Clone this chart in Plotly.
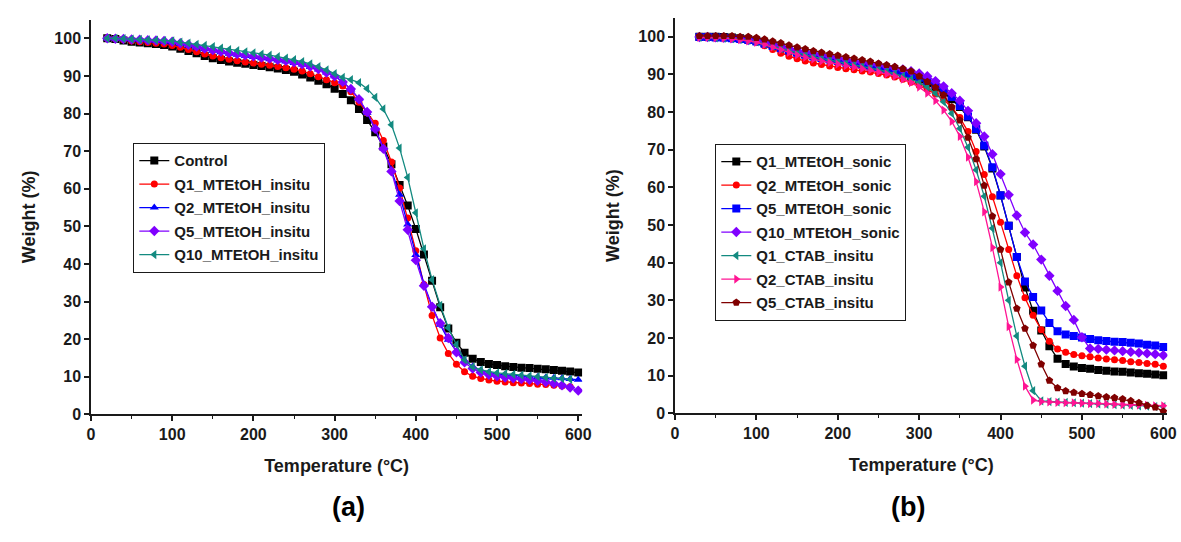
import plotly.graph_objects as go

# ---------------- data: panel (a) ----------------
temp_a = [20, 30, 40, 50, 60, 70, 80, 90, 100, 110, 120, 130, 140, 150, 160, 170, 180, 190,
          200, 210, 220, 230, 240, 250, 260, 270, 280, 290, 300, 310, 320, 330, 340, 350,
          360, 370, 380, 390, 400, 410, 420, 430, 440, 450, 460, 470, 480, 490, 500, 510,
          520, 530, 540, 550, 560, 570, 580, 590, 600]

control = [100.0, 99.8, 99.4, 99.1, 98.9, 98.7, 98.5, 98.2, 97.8, 97.2, 96.6, 96.0, 95.3, 94.7,
           94.2, 93.8, 93.5, 93.2, 92.9, 92.6, 92.3, 92.0, 91.6, 91.1, 90.4, 89.6, 88.7, 87.8,
           86.6, 85.2, 83.5, 81.2, 78.3, 75.0, 71.2, 66.5, 61.0, 55.5, 49.3, 42.5, 35.5, 28.5,
           22.8, 19.0, 16.4, 14.8, 13.9, 13.4, 13.1, 12.8, 12.6, 12.4, 12.3, 12.1, 12.0, 11.8,
           11.6, 11.4, 11.1]

q1_mtetoh_insitu = [100.0, 99.9, 99.6, 99.3, 99.1, 98.9, 98.7, 98.5, 98.1, 97.6, 97.0, 96.4, 95.8,
                    95.3, 94.8, 94.4, 94.0, 93.7, 93.4, 93.1, 92.8, 92.5, 92.2, 91.8, 91.3, 90.6,
                    89.8, 89.0, 88.2, 87.3, 85.8, 83.0, 80.2, 77.4, 72.8, 67.1, 60.2, 52.2, 43.5,
                    34.5, 26.3, 20.3, 16.2, 13.3, 11.3, 10.1, 9.5, 9.1, 8.8, 8.6, 8.4, 8.3, 8.2,
                    8.0, 7.9, 7.7, 7.5, 7.3]

q2_mtetoh_insitu = [100.0, 100.0, 99.8, 99.7, 99.6, 99.5, 99.3, 99.1, 98.9, 98.5, 98.1, 97.6, 97.1,
                    96.7, 96.3, 95.9, 95.6, 95.3, 95.0, 94.7, 94.4, 94.1, 93.8, 93.4, 93.0, 92.4,
                    91.7, 90.9, 89.9, 88.5, 86.4, 83.9, 80.2, 75.8, 70.9, 65.0, 58.4, 50.5, 42.4,
                    34.6, 28.8, 23.8, 19.8, 16.8, 14.3, 12.7, 11.7, 11.1, 10.7, 10.5, 10.3, 10.2,
                    10.0, 9.9, 9.8, 9.7, 9.6, 9.4, 9.2]

q5_mtetoh_insitu = [100.0, 99.9, 99.8, 99.7, 99.6, 99.5, 99.4, 99.3, 99.1, 98.7, 98.3, 97.8, 97.3,
                    96.9, 96.5, 96.1, 95.8, 95.5, 95.2, 94.9, 94.6, 94.3, 94.0, 93.6, 93.1, 92.5,
                    91.8, 90.9, 89.9, 88.4, 86.5, 83.8, 80.4, 75.9, 70.6, 64.6, 56.7, 49.1, 41.0,
                    34.2, 28.6, 24.2, 20.3, 16.5, 13.8, 12.2, 11.1, 10.5, 10.1, 9.8, 9.6, 9.4,
                    9.2, 8.9, 8.6, 8.2, 7.7, 7.1, 6.3]

q10_mtetoh_insitu = [100.0, 100.0, 99.9, 99.8, 99.7, 99.6, 99.5, 99.4, 99.3, 99.0, 98.7, 98.4, 98.1,
                     97.8, 97.4, 97.0, 96.7, 96.4, 96.1, 95.8, 95.5, 95.1, 94.7, 94.3, 93.8, 93.2,
                     92.5, 91.6, 90.6, 89.6, 89.0, 88.2, 86.6, 84.3, 81.2, 77.0, 70.8, 63.0, 53.6,
                     44.0, 35.8, 29.0, 23.0, 18.5, 14.5, 12.6, 11.8, 11.3, 11.0, 10.8, 10.6, 10.4,
                     10.2, 10.0, 9.8, 9.6, 9.5, 9.3]

# ---------------- data: panel (b) ----------------
temp_b = [30, 40, 50, 60, 70, 80, 90, 100, 110, 120, 130, 140, 150, 160, 170, 180, 190, 200,
          210, 220, 230, 240, 250, 260, 270, 280, 290, 300, 310, 320, 330, 340, 350, 360, 370,
          380, 390, 400, 410, 420, 430, 440, 450, 460, 470, 480, 490, 500, 510, 520, 530, 540,
          550, 560, 570, 580, 590, 600]

q1_mtetoh_sonic = [100.0, 100.0, 100.0, 99.9, 99.8, 99.6, 99.3, 98.9, 98.3, 97.7, 97.1, 96.5, 95.9,
                   95.4, 94.9, 94.5, 94.1, 93.7, 93.3, 92.9, 92.5, 92.1, 91.7, 91.2, 90.7, 90.1,
                   89.4, 88.6, 87.6, 86.5, 85.2, 83.4, 81.3, 78.6, 75.3, 70.8, 65.0, 57.8, 49.8,
                   41.5, 33.4, 27.2, 22.0, 17.8, 14.5, 13.1, 12.4, 12.0, 11.8, 11.5, 11.3, 11.1,
                   11.0, 10.8, 10.6, 10.5, 10.3, 10.1]

q2_mtetoh_sonic = [100.0, 100.0, 99.9, 99.8, 99.7, 99.5, 99.1, 98.5, 97.6, 96.6, 95.6, 94.8, 94.1,
                   93.5, 93.0, 92.6, 92.2, 91.8, 91.5, 91.2, 90.9, 90.6, 90.2, 89.8, 89.3, 88.7,
                   87.9, 87.0, 86.0, 84.8, 83.3, 81.2, 78.5, 74.8, 69.5, 63.4, 57.5, 50.7, 43.5,
                   36.5, 30.7, 26.0, 22.2, 19.1, 17.1, 16.2, 15.6, 15.3, 15.0, 14.7, 14.4, 14.2,
                   14.0, 13.7, 13.5, 13.2, 13.0, 12.5]

q5_mtetoh_sonic = [99.9, 99.9, 99.8, 99.7, 99.6, 99.4, 99.1, 98.7, 98.1, 97.5, 96.9, 96.3, 95.7,
                   95.2, 94.7, 94.3, 93.9, 93.5, 93.1, 92.8, 92.5, 92.1, 91.8, 91.4, 90.9, 90.4,
                   89.8, 89.1, 88.2, 87.2, 85.9, 84.0, 81.6, 78.8, 75.5, 71.1, 65.3, 57.9, 49.8,
                   41.5, 35.0, 30.9, 27.3, 24.0, 21.8, 20.9, 20.5, 20.1, 19.7, 19.4, 19.2, 19.0,
                   18.9, 18.7, 18.5, 18.2, 18.0, 17.6]

q10_mtetoh_sonic = [99.9, 99.9, 99.8, 99.7, 99.6, 99.4, 99.1, 98.8, 98.3, 97.8, 97.3, 96.8, 96.3,
                    95.9, 95.5, 95.1, 94.7, 94.3, 93.9, 93.5, 93.2, 92.8, 92.5, 92.1, 91.7, 91.3,
                    90.8, 90.2, 89.5, 88.2, 86.8, 85.0, 83.0, 80.3, 77.0, 73.5, 68.8, 63.5, 58.0,
                    52.5, 48.0, 44.8, 40.8, 36.5, 32.5, 28.5, 24.8, 20.2, 17.2, 17.1, 16.9, 16.7,
                    16.5, 16.3, 16.1, 15.9, 15.7, 15.4]

q1_ctab_insitu = [99.8, 99.8, 99.7, 99.6, 99.5, 99.3, 99.0, 98.6, 98.0, 97.4, 96.8, 96.2, 95.6,
                  95.1, 94.6, 94.2, 93.8, 93.4, 93.0, 92.6, 92.2, 91.8, 91.3, 90.8, 90.2, 89.5,
                  88.7, 87.8, 86.6, 85.0, 82.7, 79.6, 75.6, 70.6, 64.6, 57.6, 49.1, 40.0, 30.0,
                  20.5, 12.5, 6.0, 3.3, 3.1, 3.0, 2.9, 2.8, 2.7, 2.6, 2.5, 2.4, 2.3, 2.2, 2.1,
                  2.0, 1.9, 1.8, 1.8]

q2_ctab_insitu = [99.8, 99.8, 99.7, 99.6, 99.4, 99.2, 98.9, 98.5, 97.9, 97.2, 96.5, 95.8, 95.1,
                  94.5, 94.0, 93.5, 93.1, 92.7, 92.3, 91.9, 91.5, 91.1, 90.6, 90.1, 89.5, 88.7,
                  87.8, 86.6, 85.0, 83.0, 80.5, 77.5, 73.5, 68.0, 61.5, 53.5, 44.0, 33.5, 23.0,
                  14.3, 7.2, 3.5, 3.1, 3.0, 2.9, 2.8, 2.8, 2.7, 2.6, 2.6, 2.5, 2.4, 2.3, 2.3,
                  2.2, 2.1, 2.0, 2.0]

q5_ctab_insitu = [100.2, 100.2, 100.2, 100.2, 100.2, 100.0, 100.0, 99.7, 99.3, 98.8, 98.3, 97.7,
                  97.2, 96.7, 96.2, 95.8, 95.4, 95.0, 94.6, 94.2, 93.8, 93.4, 92.9, 92.5, 92.0,
                  91.5, 90.8, 89.5, 88.0, 86.5, 84.5, 81.3, 77.8, 73.2, 67.5, 60.5, 52.3, 43.5,
                  34.8, 27.8, 22.5, 18.0, 13.0, 8.7, 6.7, 5.9, 5.5, 5.2, 4.9, 4.6, 4.3, 4.1,
                  3.8, 3.3, 2.8, 2.1, 1.6, 0.5]

series_a = [
    ("Control", control, "#000000", "square"),
    ("Q1_MTEtOH_insitu", q1_mtetoh_insitu, "#ff0000", "circle"),
    ("Q2_MTEtOH_insitu", q2_mtetoh_insitu, "#0000ff", "triangle-up"),
    ("Q5_MTEtOH_insitu", q5_mtetoh_insitu, "#8000ff", "diamond"),
    ("Q10_MTEtOH_insitu", q10_mtetoh_insitu, "#138a80", "triangle-left"),
]
series_b = [
    ("Q1_MTEtOH_sonic", q1_mtetoh_sonic, "#000000", "square"),
    ("Q2_MTEtOH_sonic", q2_mtetoh_sonic, "#ff0000", "circle"),
    ("Q5_MTEtOH_sonic", q5_mtetoh_sonic, "#0000ff", "square"),
    ("Q10_MTEtOH_sonic", q10_mtetoh_sonic, "#8000ff", "diamond"),
    ("Q1_CTAB_insitu", q1_ctab_insitu, "#138a80", "triangle-left"),
    ("Q2_CTAB_insitu", q2_ctab_insitu, "#ff1493", "triangle-right"),
    ("Q5_CTAB_insitu", q5_ctab_insitu, "#800000", "pentagon"),
]

FONT = "Liberation Sans, Arial, sans-serif"

fig = go.Figure()
for i, (name, vals, col, sym) in enumerate(series_a):
    fig.add_trace(go.Scatter(
        x=temp_a[:len(vals)], y=vals, name=name, mode="lines+markers",
        line=dict(color=col, width=1.3),
        marker=dict(color=col, symbol=sym, size=8 if sym != "circle" else 7),
        xaxis="x", yaxis="y", legend="legend", legendgroup="a%d" % i))
for i, (name, vals, col, sym) in enumerate(series_b):
    fig.add_trace(go.Scatter(
        x=temp_b[:len(vals)], y=vals, name=name, mode="lines+markers",
        line=dict(color=col, width=1.3),
        marker=dict(color=col, symbol=sym, size=8 if sym != "circle" else 7),
        xaxis="x2", yaxis="y2", legend="legend2", legendgroup="b%d" % i))

W, H = 1181, 542


def xdom(l, r):
    return [l / W, r / W]


def ydom(top, bottom):
    return [1 - bottom / H, 1 - top / H]


axis_common = dict(
    showline=True, linecolor="#1a1a1a", linewidth=1.5, ticks="outside", ticklen=5,
    tickwidth=1.5, tickcolor="#1a1a1a", showgrid=False, zeroline=False, mirror=False,
    tickfont=dict(family=FONT, size=16, color="#1a1a1a", weight="bold"),
    automargin=False,
)

xa = dict(axis_common, range=[0, 605], dtick=100, tick0=0,
          minor=dict(dtick=50, ticks="outside", ticklen=3, tickwidth=1.3, tickcolor="#1a1a1a", showgrid=False),
          title=dict(text="Temperature (°C)", standoff=17,
                     font=dict(family=FONT, size=18, color="#1a1a1a", weight="bold")))
ya = dict(axis_common, range=[0, 105], dtick=10, tick0=0,
          title=dict(text="Weight (%)", standoff=14,
                     font=dict(family=FONT, size=18, color="#1a1a1a", weight="bold")))

legend_common = dict(
    bgcolor="rgba(255,255,255,1)", bordercolor="#1a1a1a", borderwidth=1.3,
    font=dict(family=FONT, size=15, color="#1a1a1a", weight="bold"),
    xanchor="left", yanchor="top", traceorder="grouped", tracegroupgap=1,
    itemclick=False, itemdoubleclick=False,
)

fig.update_layout(
    width=W, height=H,
    margin=dict(l=0, r=0, t=0, b=0),
    paper_bgcolor="white", plot_bgcolor="white",
    showlegend=True,
    xaxis=dict(xa, domain=xdom(91, 582.3), anchor="y"),
    yaxis=dict(ya, domain=ydom(19.5, 414.3), anchor="x"),
    xaxis2=dict(xa, domain=xdom(675, 1167.4), anchor="y2"),
    yaxis2=dict(ya, domain=ydom(17.8, 413.3), anchor="x2"),
    legend=dict(legend_common, x=133 / W, y=1 - 143 / H),
    legend2=dict(legend_common, x=715 / W, y=1 - 144 / H),
    annotations=[
        dict(text="(a)", x=330 / W, y=1 - 524 / H, xref="paper", yref="paper",
             showarrow=False, font=dict(family=FONT, size=27, color="#000000", weight="bold")),
        dict(text="(b)", x=927 / W, y=1 - 524 / H, xref="paper", yref="paper",
             showarrow=False, font=dict(family=FONT, size=27, color="#000000", weight="bold")),
    ],
)

fig.write_html("out.html")
